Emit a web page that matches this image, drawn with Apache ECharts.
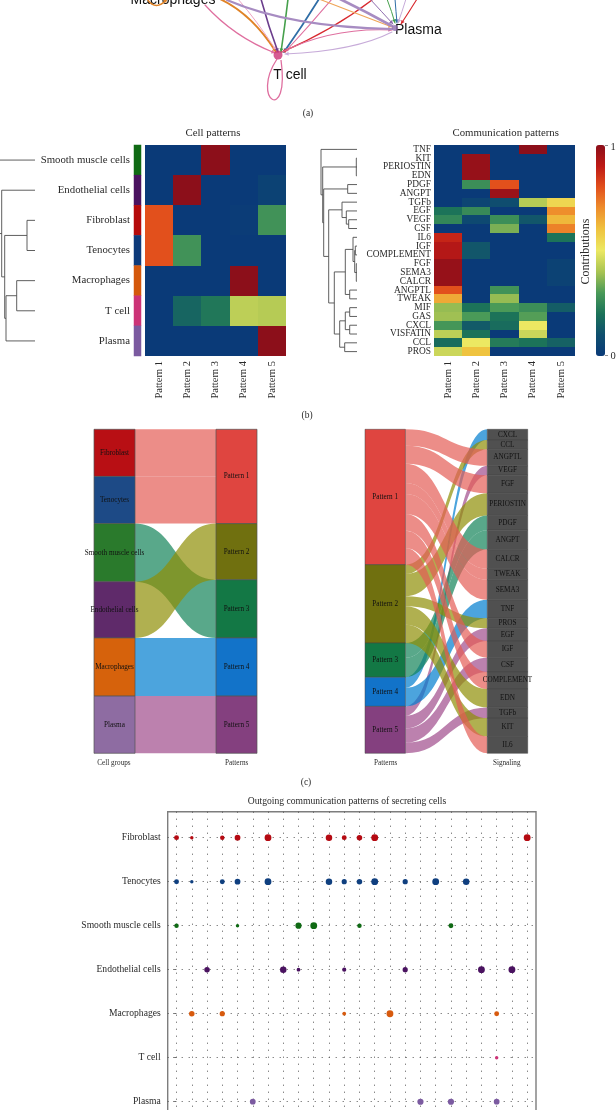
<!DOCTYPE html>
<html><head><meta charset="utf-8">
<style>html,body{margin:0;padding:0;background:#fff}#c{width:616px;height:1110px;filter:blur(0.35px)}</style>
<script src="https://cdn.jsdelivr.net/npm/echarts@6/dist/echarts.min.js"></script>
</head><body><div id="c"></div>
<script>
// ---------- panel (a): network (visible ends of the edges, in network units)
const netEdges = [
  // x0,y0, cx,cy, x1,y1, colour key, weight
  [220,-1,252,14,276,52,'macro',1.9],
  [205,5,234,37,275,53,'tcell',1.2],
  [238,-1,257,21,276,50,'tcellLight',1.0],
  [261,-1,268,25,278,52,'endo',1.6],
  [288,-1,285,25,281,52,'smooth',1.6],
  [319,-1,303,25,284,52,'teno',1.8],
  [332,-1,310,25,285,52,'tcell',1.1],
  [372,0,333,30,282,52,'fibro',1.3],
  [282,52,332,27,392,30,'tcell',1.1],
  [392,32,355,51,285,54,'plasmaLight',1.1],
  [227,0,289,27,392,29,'plasmaMid',2.2],
  [319,-1,355,13,392,27,'macroLight',1.1],
  [340,-1,367,12,392,26,'plasmaMid',2.6],
  [370,-1,382,12,393,24,'plasmaDark',1.0],
  [387,-1,392,12,395,23,'smooth',1.0],
  [395,-1,396,12,397,23,'teno',1.0],
  [406,-1,402,12,398,23,'plasmaLight',1.0],
  [417,-1,409,12,401,24,'fibro',1.1],
  [147,-1,156,12,167,-1,'macro',1.5]
];
const netLoop = [277,59,250,100,290,125,281,60];
const netNodes = [['T cell',278,55,9,'tcell'],['Plasma',395,28,6,'plasmaDark']];
const netPalette = {macro:'#e08327',macroLight:'#efa558',tcell:'#df6f9f',tcellLight:'#efa3c3',endo:'#6b3d8c',smooth:'#46a04c',teno:'#2f6da6',fibro:'#d8292f',plasmaLight:'#c7abd9',plasmaMid:'#a78cc2',plasmaDark:'#8e6cae'};
netPalette.tcellNode='#cc3377';

// ---------- panel (b): heatmaps
const patterns = ['Pattern 1','Pattern 2','Pattern 3','Pattern 4','Pattern 5'];
const cellRows = ['Smooth muscle cells','Endothelial cells','Fibroblast','Tenocytes','Macrophages','T cell','Plasma'];
const cellMatrix = [
  [0,0,1,0,0],
  [0,1,0,0,0.04],
  [0.8,0,0,0.01,0.28],
  [0.8,0.28,0,0,0],
  [0,0,0,1,0],
  [0,0.16,0.21,0.43,0.42],
  [0,0,0,0,1]
];
const cellStrip = ['#0f6a14','#4a1260','#b50a0a','#0d3a7a','#d4580c','#cc3377','#7b5aa0'];
const commRows = ['TNF','KIT','PERIOSTIN','EDN','PDGF','ANGPT','TGFb','EGF','VEGF','CSF','IL6','IGF','COMPLEMENT','FGF','SEMA3','CALCR','ANGPTL','TWEAK','MIF','GAS','CXCL','VISFATIN','CCL','PROS'];
const commMatrix = [
  [0,0,0,1,0],
  [0,0.98,0,0,0],
  [0,0.98,0,0,0],
  [0,0.98,0,0,0],
  [0,0.27,0.8,0,0],
  [0,0,0.97,0,0],
  [0,0.05,0.09,0.42,0.55],
  [0.2,0.26,0,0,0.7],
  [0.25,0.07,0.27,0.12,0.62],
  [0,0,0.35,0,0.72],
  [0.88,0,0,0,0.2],
  [0.92,0.12,0,0,0],
  [0.92,0.12,0,0,0],
  [0.98,0,0,0,0.04],
  [0.98,0,0,0,0.04],
  [0.98,0,0,0,0.04],
  [0.8,0,0.28,0,0],
  [0.65,0,0.38,0,0],
  [0.38,0.2,0.3,0.27,0.14],
  [0.39,0.3,0.2,0.31,0],
  [0.29,0.13,0.18,0.5,0],
  [0.43,0.2,0,0.45,0],
  [0.18,0.5,0.22,0.2,0.15],
  [0.45,0.6,0,0,0]
];
const heatRamp = ['#0a3a78','#0f4f6e','#1c7359','#4a9a58','#a9c452','#ece862','#efc33f','#ee8e2c','#e2501c','#be1a16','#8c0f1a'];
// dendrograms: [height, child, child...], a plain number is a row index
const cellTree = [37,0,[33.3,1,[30.3,[8,2,3],[29,[18.3,4,5],6]]]];
const commTree = [36,0,[34.3,[0.7,1,2,3],[33.3,[9.3,4,5],[28.3,[15,6,[10.7,7,[8.3,8,9]]],[22.7,[11.7,[4,10,[2.3,[1.7,11,12],[0.7,13,14,15]]],[7.3,16,17]],[17.3,[11.7,[7.3,18,19],[7.3,20,21]],[12.3,22,23]]]]]]];

// ---------- panel (c): alluvial plots
const cellGroups = ['Fibroblast','Tenocytes','Smooth muscle cells','Endothelial cells','Macrophages','Plasma'];
const cellGroupColors = ['#b80f14','#1d4a86','#2a7a2c','#5f2a6a','#d6620c','#8e6ca2'];
const patternColors = ['#df4540','#70700f','#137845','#1273c9','#84407f'];
const patternFlow = ['#e45c55','#8e8e05','#138358','#007ece','#9f4c8b'];
const cellFlows = [[0,0,47],[1,0,47],[2,2,58],[3,1,56],[4,3,58],[5,4,57]];
const signals = ['CXCL','CCL','ANGPTL','VEGF','FGF','PERIOSTIN','PDGF','ANGPT','CALCR','TWEAK','SEMA3','TNF','PROS','EGF','IGF','CSF','COMPLEMENT','EDN','TGFb','KIT','IL6'];
const signalFlows = [[3,0,32],[1,1,28],[0,2,49],[4,3,28],[0,4,54],[1,5,66],[2,6,44],[2,7,58],[0,8,57],[0,9,33],[0,10,60],[3,11,55],[1,12,30],[4,13,38],[0,14,50],[4,15,42],[0,16,51],[1,17,55],[4,18,32],[1,19,55],[0,20,50]];

// ---------- panel (d): dot plot
const dotRows = ['Fibroblast','Tenocytes','Smooth muscle cells','Endothelial cells','Macrophages','T cell','Plasma'];
const dotColors = ['#b50a12','#0f3f7f','#0f6a14','#4a1260','#d75a0e','#cc3377','#7b5aa0'];
const dotFibroblast = [[0,0.68],[1,0.48],[3,0.62],[4,0.8],[6,0.95],[10,0.9],[11,0.68],[12,0.76],[13,0.95],[23,0.95]];
const dotTenocytes = [[0,0.68],[1,0.48],[3,0.68],[4,0.8],[6,0.95],[10,0.9],[11,0.72],[12,0.76],[13,0.95],[15,0.72],[17,0.95],[19,0.9]];
const dotSmooth = [[0,0.62],[4,0.48],[8,0.86],[9,0.95],[12,0.62],[18,0.68]];
const dotEndothelial = [[2,0.76],[7,0.9],[8,0.52],[11,0.58],[15,0.72],[20,0.95],[22,0.95]];
const dotMacrophages = [[1,0.76],[3,0.72],[11,0.52],[14,0.95],[21,0.68]];
const dotTcell = [[21,0.48]];
const dotPlasma = [[5,0.8],[16,0.86],[18,0.86],[21,0.8]];
const dotSeries = [dotFibroblast,dotTenocytes,dotSmooth,dotEndothelial,dotMacrophages,dotTcell,dotPlasma];
const dotCols = Array.from({length:24},(_,i)=>i);

// ---------- helpers
const SERIF = '"Liberation Serif", serif';
const SANS = '"Liberation Sans", Arial, sans-serif';
const INK = '#2a2a2a';
const cells = m => m.flatMap((r,y)=>r.map((v,x)=>[x,y,v]));

function treeSegments(node, out){
  if(typeof node==='number') return {h:0,y:node+0.5};
  const h=node[0], kids=node.slice(1).map(k=>treeSegments(k,out));
  kids.forEach(k=>out.push([k.h,k.y,h,k.y]));
  out.push([h,kids[0].y,h,kids[kids.length-1].y]);
  return {h,y:(kids[0].y+kids[kids.length-1].y)/2};
}
function treeSeries(tree,idx){
  const segs=[]; treeSegments(tree,segs);
  return {type:'custom',xAxisIndex:idx,yAxisIndex:idx,silent:true,clip:false,data:segs,
    renderItem(p,api){
      const a=api.coord([api.value(0),api.value(1)]), b=api.coord([api.value(2),api.value(3)]);
      return {type:'line',shape:{x1:a[0],y1:a[1],x2:b[0],y2:b[1]},style:{stroke:'#4d4d4d',lineWidth:0.9}};
    }};
}
// heat cell snapped to whole pixels so that no anti-aliasing seams show between cells
function heatCell(p,api){
  const c=api.coord([api.value(0),api.value(1)]), s=api.size([1,1]), col=api.visual('color');
  const x0=Math.round(c[0]-s[0]/2), x1=Math.round(c[0]+s[0]/2), y0=Math.round(c[1]-s[1]/2), y1=Math.round(c[1]+s[1]/2);
  return {type:'rect',shape:{x:x0,y:y0,width:x1-x0,height:y1-y0},style:{fill:col}};
}
function arrowHead(px,py,x,y,col,size){
  const d=Math.hypot(x-px,y-py)||1, ux=(x-px)/d, uy=(y-py)/d;
  return {type:'polygon',shape:{points:[[x,y],[x-ux*size-uy*size*0.55,y-uy*size+ux*size*0.55],[x-ux*size+uy*size*0.55,y-uy*size-ux*size*0.55]]},style:{fill:col}};
}
const hiddenAxis = {show:false};
const heatX = (g,size)=>({type:'category',gridIndex:g,data:patterns,axisLine:{show:false},axisTick:{show:false},splitLine:{show:false},
  axisLabel:{rotate:90,margin:5,interval:0,color:INK,fontFamily:SERIF,fontSize:size}});
const heatY = (g,rows,show,size,margin)=>({type:'category',gridIndex:g,data:rows,inverse:true,axisLine:{show:false},axisTick:{show:false},splitLine:{show:false},
  axisLabel:{show:show,interval:0,margin:margin,color:INK,fontFamily:SERIF,fontSize:size}});

const text=(x,y,t,size,opt={})=>Object.assign({type:'text',x,y,silent:true,style:{text:t,font:(opt.weight||'')+' '+size+'px '+(opt.family||SERIF),fill:opt.fill||INK,textAlign:opt.align||'center',textVerticalAlign:'middle'}},opt.rotation!==undefined?{rotation:opt.rotation}:{});

const gridBase={outerBoundsMode:'none',containLabel:false};
const grids=[
  {...gridBase,left:0,top:0,width:616,height:110},          //0 network
  {...gridBase,left:134,top:145,width:7,height:211},        //1 strip
  {...gridBase,left:145,top:145,width:141,height:211},      //2 cell heat
  {...gridBase,left:0,top:145,width:35,height:211},         //3 cell tree
  {...gridBase,left:434,top:145,width:141,height:211},      //4 comm heat
  {...gridBase,left:317,top:145,width:40,height:211},       //5 comm tree
  {...gridBase,left:167.7,top:811.7,width:368.3,height:316,show:true,borderColor:'#7d7d7d',borderWidth:1.4} //6 dots
];
const dotted={show:true,lineStyle:{color:'#555',width:1,type:[1,6]}};
const xAxes=[
  {type:'value',gridIndex:0,min:0,max:616,...hiddenAxis},
  {type:'category',gridIndex:1,data:['strip'],...hiddenAxis},
  heatX(2,10.5),
  {type:'value',gridIndex:3,min:0,max:35,inverse:true,...hiddenAxis},
  heatX(4,10.5),
  {type:'value',gridIndex:5,min:0,max:40,inverse:true,...hiddenAxis},
  {type:'value',gridIndex:6,min:-0.58,max:23.58,
    axisLine:{show:false},axisLabel:{show:false,customValues:dotCols},axisTick:{show:false,customValues:dotCols},
    splitLine:dotted}
];
const yAxes=[
  {type:'value',gridIndex:0,min:0,max:110,inverse:true,...hiddenAxis},
  heatY(1,cellRows,true,10.8,4),
  heatY(2,cellRows,false,10.8,4),
  {type:'value',gridIndex:3,min:0,max:7,inverse:true,...hiddenAxis},
  heatY(4,commRows,true,9.4,3),
  {type:'value',gridIndex:5,min:0,max:24,inverse:true,...hiddenAxis},
  {type:'value',gridIndex:6,min:-0.59,max:6.59,inverse:true,
    axisLine:{show:false},
    axisTick:{show:true,length:3.5,customValues:[0,1,2,3,4,5,6],lineStyle:{color:'#666',width:0.8}},
    axisLabel:{show:true,margin:7,color:INK,fontFamily:SERIF,fontSize:9.6,customValues:[0,1,2,3,4,5,6],formatter:v=>dotRows[v]},
    splitLine:dotted}
];

const series=[
  {type:'custom',xAxisIndex:2,yAxisIndex:2,data:cells(cellMatrix),silent:true,encode:{x:0,y:1},renderItem:heatCell},
  {type:'custom',xAxisIndex:4,yAxisIndex:4,data:cells(commMatrix),silent:true,encode:{x:0,y:1},renderItem:heatCell},
  {type:'heatmap',xAxisIndex:1,yAxisIndex:1,silent:true,
    data:cellStrip.map((c,i)=>({value:[0,i,1],itemStyle:{color:c}}))},
  treeSeries(cellTree,3),
  treeSeries(commTree,5),
  {type:'custom',xAxisIndex:0,yAxisIndex:0,clip:false,silent:true,data:netEdges,z:2,
    renderItem(p,api){
      const e=netEdges[p.dataIndex], col=netPalette[e[6]];
      const a=api.coord([e[0],e[1]]),c=api.coord([e[2],e[3]]),b=api.coord([e[4],e[5]]);
      return {type:'group',children:[
        {type:'bezierCurve',shape:{x1:a[0],y1:a[1],x2:b[0],y2:b[1],cpx1:c[0],cpy1:c[1]},style:{stroke:col,fill:null,lineWidth:e[7],lineCap:'round'}},
        arrowHead(c[0],c[1],b[0],b[1],col,3.6)
      ]};
    }},
  {type:'custom',xAxisIndex:0,yAxisIndex:0,clip:false,silent:true,data:[netLoop],z:2,
    renderItem(p,api){
      const l=netLoop,a=api.coord([l[0],l[1]]),c1=api.coord([l[2],l[3]]),c2=api.coord([l[4],l[5]]),b=api.coord([l[6],l[7]]);
      return {type:'bezierCurve',shape:{x1:a[0],y1:a[1],cpx1:c1[0],cpy1:c1[1],cpx2:c2[0],cpy2:c2[1],x2:b[0],y2:b[1]},style:{stroke:netPalette.tcell,fill:null,lineWidth:1.3}};
    }},
  {type:'scatter',xAxisIndex:0,yAxisIndex:0,silent:true,z:3,
    data:netNodes.map(n=>({name:n[0],value:[n[1],n[2]],symbolSize:n[3],itemStyle:{color:n[0]==='T cell'?netPalette.tcellNode:netPalette[n[4]]}}))},
  {type:'sankey',left:94,top:429.3,width:163,height:324,nodeWidth:41,nodeGap:0,layoutIterations:0,draggable:false,silent:true,
    emphasis:{disabled:true},
    label:{position:'inside',fontFamily:SERIF,fontSize:7.2,color:'#111'},
    itemStyle:{borderColor:'#555',borderWidth:0.7},
    lineStyle:{opacity:0.7,curveness:0.5},
    data:[...cellGroups.map((n,i)=>({name:n,itemStyle:{color:cellGroupColors[i]}})),
          ...patterns.map((n,i)=>({name:n,itemStyle:{color:patternColors[i]}}))],
    links:cellFlows.map(f=>({source:cellGroups[f[0]],target:patterns[f[1]],value:f[2],lineStyle:{color:patternFlow[f[1]],opacity:0.7}}))},
  {type:'sankey',left:365,top:429.3,width:162.7,height:324,nodeWidth:40.4,nodeGap:0,layoutIterations:0,draggable:false,silent:true,
    emphasis:{disabled:true},
    label:{position:'inside',fontFamily:SERIF,fontSize:7.2,color:'#111'},
    itemStyle:{borderColor:'#444',borderWidth:0.5},
    lineStyle:{opacity:0.7,curveness:0.5},
    data:[...patterns.map((n,i)=>({name:'p:'+n,label:{formatter:n},itemStyle:{color:patternColors[i]}})),
          ...signals.map(n=>({name:n,itemStyle:{color:'#505050'}}))],
    links:signalFlows.map(f=>({source:'p:'+patterns[f[0]],target:signals[f[1]],value:f[2],lineStyle:{color:patternFlow[f[0]],opacity:0.7}}))},
  ...dotSeries.map((pts,i)=>({type:'scatter',xAxisIndex:6,yAxisIndex:6,silent:true,z:3,
    data:pts.map(p=>[p[0],i,p[1]]),symbolSize:v=>v[2]*7.2,itemStyle:{color:dotColors[i],opacity:1}}))
];

const graphics=[
  text(173,0,'Macrophages',14,{family:SANS,fill:'#111'}),
  text(395,30,'Plasma',14,{family:SANS,fill:'#111',align:'left'}),
  text(290,75.5,'T cell',14,{family:SANS,fill:'#111'}),
  text(308,113,'(a)',9.5),
  text(213,133,'Cell patterns',10.8),
  text(505.7,133,'Communication patterns',10.8),
  text(307,415,'(b)',9.5),
  text(114,763,'Cell groups',7.2),
  text(236.7,763,'Patterns',7.2),
  text(385.7,763,'Patterns',7.2),
  text(506.7,763,'Signaling',7.2),
  text(306,782,'(c)',9.5),
  text(347,801.5,'Outgoing communication patterns of secreting cells',9.6),
  text(586,251.5,'Contributions',12,{rotation:Math.PI/2}),
  text(613,147,'1',10.5),
  text(613,356,'0',10.5),
  {type:'line',silent:true,shape:{x1:605,y1:145.5,x2:608,y2:145.5},style:{stroke:'#444',lineWidth:0.6}},
  {type:'line',silent:true,shape:{x1:605,y1:355.5,x2:608,y2:355.5},style:{stroke:'#444',lineWidth:0.6}}
];

const chart=echarts.init(document.getElementById('c'),null,{renderer:'canvas',width:616,height:1110});
chart.setOption({
  animation:false,backgroundColor:'#fff',
  grid:grids,xAxis:xAxes,yAxis:yAxes,
  visualMap:[{type:'continuous',seriesIndex:[0,1],dimension:2,min:0,max:1,calculable:false,realtime:false,
    left:596,top:145,itemWidth:9,itemHeight:211,padding:0,text:null,showLabel:false,
    textStyle:{fontSize:0,color:'rgba(0,0,0,0)'},
    inRange:{color:heatRamp}}],
  series,graphic:{elements:graphics}
});
</script></body></html>
